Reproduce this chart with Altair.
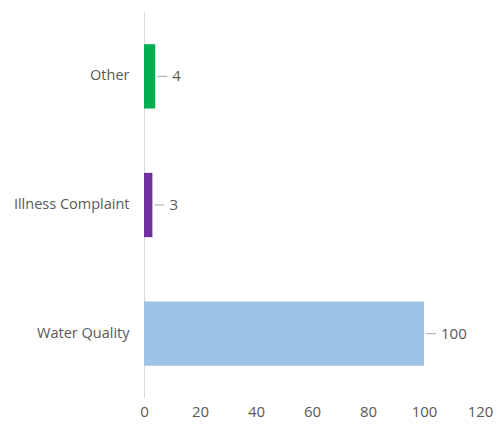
import altair as alt
import pandas as pd

categories = ["Other", "Illness Complaint", "Water Quality"]
counts = [4, 3, 100]
colors = ["#00B050", "#7030A0", "#9DC3E6"]

df = pd.DataFrame({"category": categories, "count": counts, "color": colors})

FONT = "Open Sans"
GRAY = "#595959"

y_enc = alt.Y(
    "category:N",
    sort=categories,
    title=None,
    scale=alt.Scale(paddingInner=0.5, paddingOuter=0.25),
    axis=alt.Axis(
        domainColor="#D9D9D9",
        ticks=False,
        labelPadding=15,
        labelFontSize=14.5,
        labelColor=GRAY,
        labelFont=FONT,
    ),
)
x_enc = alt.X(
    "count:Q",
    title=None,
    scale=alt.Scale(domain=[0, 120]),
    axis=alt.Axis(
        values=[0, 20, 40, 60, 80, 100, 120],
        grid=False,
        domain=False,
        ticks=False,
        labelFlush=False,
        labelPadding=6,
        labelFontSize=15,
        labelColor=GRAY,
        labelFont=FONT,
    ),
)

bars = alt.Chart(df).mark_bar().encode(
    x=x_enc,
    y=y_enc,
    color=alt.Color("color:N", scale=None),
)

leaders = alt.Chart(df).mark_rule(
    color="#A6A6A6", strokeWidth=1, xOffset=2, x2Offset=12
).encode(x="count:Q", x2="count:Q", y=alt.Y("category:N", sort=categories))

labels = alt.Chart(df).mark_text(
    align="left", baseline="middle", dx=17, fontSize=15, font=FONT, color=GRAY
).encode(x="count:Q", y=alt.Y("category:N", sort=categories), text="count:Q")

chart = (
    alt.layer(bars, leaders, labels)
    .properties(
        width=336,
        height=386,
        autosize=alt.AutoSizeParams(type="none"),
        padding={"left": 144, "top": 12, "right": 16, "bottom": 30},
    )
    .configure_view(stroke=None)
)

chart.save("out.html", embed_options={"renderer": "svg", "actions": False})
